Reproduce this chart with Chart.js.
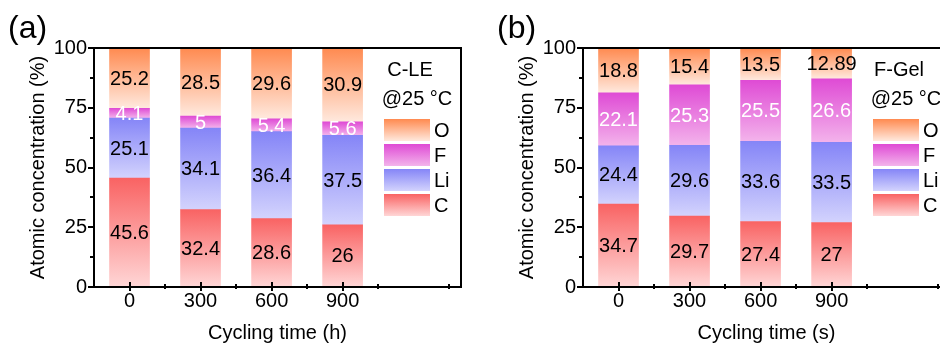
<!DOCTYPE html>
<html>
<head>
<meta charset="utf-8">
<script src="https://cdn.jsdelivr.net/npm/chart.js@4.4.0/dist/chart.umd.min.js"></script>
<style>
  html, body { margin: 0; padding: 0; background: #fff; width: 940px; height: 345px; overflow: hidden; }
  .panel { position: absolute; top: 0; width: 470px; height: 345px; }
  #panelA { left: 0; }
  #panelB { left: 489px; }
</style>
</head>
<body>
<div class="panel" id="panelA"><canvas id="canvasA" width="470" height="345"></canvas></div>
<div class="panel" id="panelB"><canvas id="canvasB" width="470" height="345"></canvas></div>
<script>
// Temps de cyclage et étiquettes de l'axe x
const cyclingTimes = [0, 300, 600, 900];
const tickLabels = ['0', '300', '600', '900'];
const yTicks = [0, 25, 50, 75, 100];
const elements = ['C', 'Li', 'F', 'O'];

// C-LE @25 °C
const cleC = [45.6, 32.4, 28.6, 26];
const cleLi = [25.1, 34.1, 36.4, 37.5];
const cleF = [4.1, 5, 5.4, 5.6];
const cleO = [25.2, 28.5, 29.6, 30.9];

// F-Gel @25 °C
const gelC = [34.7, 29.7, 27.4, 27];
const gelLi = [24.4, 29.6, 33.6, 33.5];
const gelF = [22.1, 25.3, 25.5, 26.6];
const gelO = [18.8, 15.4, 13.5, 12.89];

// Dégradé de chaque segment : couleur du haut -> couleur du bas
const topColors = ['#f96363', '#8585f7', '#df4bd5', '#ff8a50'];
const bottomColors = ['#ffd6d6', '#d3d3fd', '#f3b3eb', '#ffe9de'];
const labelColors = ['#000', '#000', '#fff', '#000'];

const FONT = 'Arial, "Liberation Sans", sans-serif';

// dégradé vertical entre deux pixels
function makeGradient(ctx, y0, y1, k) {
  const g = ctx.createLinearGradient(0, y0, 0, y1);
  g.addColorStop(0, topColors[k]);
  g.addColorStop(1, bottomColors[k]);
  return g;
}

// Plugin : cadre, graduations, valeurs, légende et lettre du panneau
const decorPlugin = {
  id: 'decor',
  afterDatasetsDraw(chart) {
    const ctx = chart.ctx;
    ctx.save();
    ctx.font = '20px ' + FONT;
    ctx.textAlign = 'center';
    ctx.textBaseline = 'middle';
    chart.data.datasets.forEach((ds, k) => {
      const meta = chart.getDatasetMeta(k);
      meta.data.forEach((el, i) => {
        ctx.fillStyle = labelColors[k];
        ctx.fillText(String(ds.values[i]), el.x, (el.y + el.base) / 2 + 1);
      });
    });
    ctx.restore();
  },
  afterDraw(chart, args, opts) {
    const ctx = chart.ctx;
    const { left, right, top, bottom } = chart.chartArea;
    const x = chart.scales.x, y = chart.scales.y;
    ctx.save();
    ctx.strokeStyle = '#000';
    ctx.lineWidth = 2;
    ctx.strokeRect(left, top, right - left, bottom - top);

    // graduations y (vers l'extérieur)
    ctx.beginPath();
    for (let v = 0; v <= 100; v += 12.5) {
      const py = Math.round(y.getPixelForValue(v));
      const len = yTicks.includes(v) ? 6 : 4;
      ctx.moveTo(left - len, py);
      ctx.lineTo(left, py);
    }
    // graduations x : majeures et mineures
    cyclingTimes.forEach(t => {
      const px = Math.round(x.getPixelForValue(t));
      ctx.moveTo(px, bottom - 5);
      ctx.lineTo(px, bottom + 4);
    });
    for (let t = 150; t < 1400; t += 300) {
      const px = Math.round(x.getPixelForValue(t));
      ctx.moveTo(px, bottom - 3);
      ctx.lineTo(px, bottom + 2);
    }
    ctx.stroke();

    // lettre du panneau
    ctx.fillStyle = '#000';
    ctx.font = '32px ' + FONT;
    ctx.textAlign = 'left';
    ctx.textBaseline = 'alphabetic';
    ctx.fillText(opts.letter, 8, 38);

    // légende
    const lx = left + 290;
    ctx.font = '20px ' + FONT;
    ctx.textAlign = 'center';
    ctx.textBaseline = 'middle';
    ctx.fillText(opts.title[0], lx + 26, 70);
    ctx.fillText(opts.title[1], lx + 33, 99);
    ctx.textAlign = 'left';
    const order = [3, 2, 1, 0];
    order.forEach((k, n) => {
      const sy = 119 + n * 25;
      ctx.fillStyle = makeGradient(ctx, sy, sy + 22, k);
      ctx.fillRect(lx, sy, 46, 22);
      ctx.fillStyle = '#000';
      ctx.fillText(elements[k], lx + 50, sy + 12);
    });
    ctx.restore();
  }
};

function buildChart(canvasId, series, letter, title, xTitle) {
  const datasets = series.map((vals, k) => ({
    label: elements[k],
    values: vals,
    data: vals.map((v, i) => ({ x: cyclingTimes[i], y: v })),
    barThickness: 40,
    borderWidth: 0,
    backgroundColor: (c) => {
      const chart = c.chart;
      if (c.type !== 'data' || !chart.chartArea) return topColors[k];
      let base = 0;
      for (let j = 0; j < k; j++) base += series[j][c.dataIndex];
      const yTop = chart.scales.y.getPixelForValue(base + vals[c.dataIndex]);
      const yBot = chart.scales.y.getPixelForValue(base);
      return makeGradient(chart.ctx, yTop, yBot, k);
    }
  }));

  return new Chart(document.getElementById(canvasId), {
    type: 'bar',
    data: { datasets: datasets },
    plugins: [decorPlugin],
    options: {
      responsive: false,
      animation: false,
      layout: { padding: { top: 48, right: 9, left: 0, bottom: 0 } },
      plugins: {
        legend: { display: false },
        tooltip: { enabled: false },
        decor: { letter: letter, title: title }
      },
      scales: {
        x: {
          type: 'linear',
          stacked: true,
          offset: false,
          min: -150,
          max: 1400,
          afterFit: (s) => { s.height = 58; },
          afterBuildTicks: (s) => { s.ticks = cyclingTimes.map(v => ({ value: v })); },
          grid: { display: false, drawTicks: false, offset: false },
          border: { display: false },
          ticks: {
            color: '#000',
            padding: 2,
            maxRotation: 0,
            font: { size: 20, family: FONT },
            callback: (v) => tickLabels[cyclingTimes.indexOf(v)]
          },
          title: {
            display: true,
            text: xTitle,
            color: '#000',
            font: { size: 20, family: FONT },
            padding: { top: 0, bottom: 0 }
          }
        },
        y: {
          stacked: true,
          min: 0,
          max: 100,
          afterFit: (s) => { s.width = 94; },
          afterBuildTicks: (s) => { s.ticks = yTicks.map(v => ({ value: v })); },
          grid: { display: false, drawTicks: false },
          border: { display: false },
          ticks: {
            color: '#000',
            padding: 7,
            font: { size: 20, family: FONT }
          },
          title: {
            display: true,
            text: 'Atomic concentration (%)',
            color: '#000',
            font: { size: 20, family: FONT },
            padding: { top: 26, bottom: 0 }
          }
        }
      }
    }
  });
}

buildChart('canvasA', [cleC, cleLi, cleF, cleO], '(a)', ['C-LE', '@25 °C'], 'Cycling time (h)');
buildChart('canvasB', [gelC, gelLi, gelF, gelO], '(b)', ['F-Gel', '@25 °C'], 'Cycling time (s)');
</script>
</body>
</html>
